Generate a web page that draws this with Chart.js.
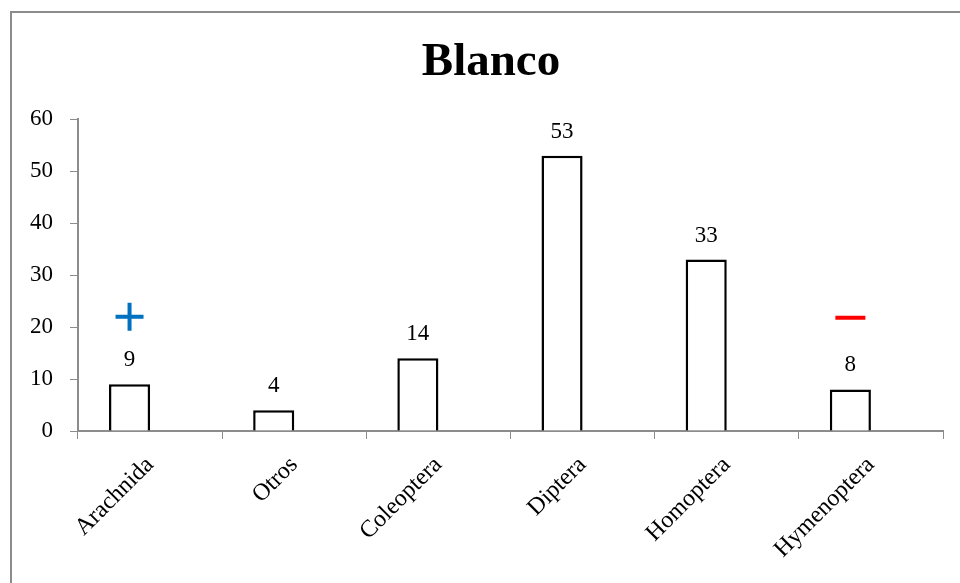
<!DOCTYPE html>
<html>
<head>
<meta charset="utf-8">
<script src="https://cdn.jsdelivr.net/npm/chart.js@4/dist/chart.umd.min.js"></script>
<style>
  html, body { margin: 0; padding: 0; background: #fff; overflow: hidden; }
  #wrap { width: 960px; height: 583px; position: relative; overflow: hidden; }
</style>
</head>
<body>
<div id="wrap"><canvas id="blancoChart" width="982" height="583"></canvas></div>
<script>
const ordenes = ['Arachnida', 'Otros', 'Coleoptera', 'Diptera', 'Homoptera', 'Hymenoptera'];
const capturas = [9, 4, 14, 53, 33, 8];
const marcas = ['+', null, null, null, null, '-'];
const nivelMarca = 22;
const ticksY = [0, 10, 20, 30, 40, 50, 60];

const serif = "'Liberation Serif', 'Times New Roman', serif";
const gris = '#8c8c8c';

// marco gris alrededor del gráfico
const marco = {
    id: 'marco',
    beforeDraw(chart) {
        const ctx = chart.ctx;
        ctx.save();
        ctx.fillStyle = '#fff';
        ctx.fillRect(0, 0, chart.width, chart.height);
        ctx.strokeStyle = gris;
        ctx.lineWidth = 2;
        ctx.beginPath();
        ctx.moveTo(11, chart.height);
        ctx.lineTo(11, 12);
        ctx.lineTo(chart.width, 12);
        ctx.stroke();
        ctx.restore();
    }
};

// valores encima de cada barra
const etiquetas = {
    id: 'etiquetas',
    afterDatasetsDraw(chart) {
        const ctx = chart.ctx;
        const meta = chart.getDatasetMeta(0);
        ctx.save();
        ctx.font = '23px ' + serif;
        ctx.fillStyle = '#000';
        ctx.textAlign = 'center';
        ctx.textBaseline = 'alphabetic';
        meta.data.forEach((bar, i) => {
            ctx.fillText(String(capturas[i]), bar.x, bar.y - 18);
        });
        ctx.restore();
    }
};

// signos + y - sobre Arachnida e Hymenoptera
const signos = {
    id: 'signos',
    afterDatasetsDraw(chart) {
        const ctx = chart.ctx;
        const meta = chart.getDatasetMeta(0);
        const y = chart.scales.y.getPixelForValue(nivelMarca);
        ctx.save();
        ctx.lineWidth = 4;
        ctx.lineCap = 'butt';
        marcas.forEach((m, i) => {
            if (!m) return;
            const x = meta.data[i].x;
            ctx.beginPath();
            if (m === '+') {
                ctx.strokeStyle = '#0070c0';
                ctx.moveTo(x - 14, y);
                ctx.lineTo(x + 14, y);
                ctx.moveTo(x, y - 14);
                ctx.lineTo(x, y + 14);
            } else {
                ctx.strokeStyle = '#ff0000';
                ctx.moveTo(x - 15, y + 1);
                ctx.lineTo(x + 15, y + 1);
            }
            ctx.stroke();
        });
        ctx.restore();
    }
};

new Chart(document.getElementById('blancoChart'), {
    type: 'bar',
    data: {
        labels: ordenes,
        datasets: [
            {
                label: 'Blanco',
                data: capturas,
                backgroundColor: '#fff',
                borderColor: '#000',
                borderWidth: 2.5,
                borderSkipped: 'start',
                categoryPercentage: 0.57,
                barPercentage: 1
            },
            {
                // serie vacía que ocupa el segundo hueco de cada categoría
                label: '',
                data: [],
                categoryPercentage: 0.57,
                barPercentage: 1
            }
        ]
    },
    options: {
        responsive: false,
        animation: false,
        layout: { padding: { left: 20, right: 20, top: 0, bottom: 0 } },
        plugins: {
            legend: { display: false },
            tooltip: { enabled: false },
            title: {
                display: true,
                text: 'Blanco',
                color: '#000',
                font: { family: serif, size: 47, weight: 'bold', lineHeight: 1.2 },
                padding: { top: 35, bottom: 28 }
            }
        },
        scales: {
            x: {
                grid: { display: true, drawOnChartArea: false, offset: true, color: gris, tickLength: 8 },
                border: { display: true, color: gris, width: 2 },
                ticks: {
                    color: '#000',
                    font: { family: serif, size: 24 },
                    minRotation: 45,
                    maxRotation: 45,
                    padding: 12
                },
                afterFit(scale) { scale.height = 152; }
            },
            y: {
                min: 0,
                max: 60,
                grid: { display: true, drawOnChartArea: false, color: gris, tickLength: 8 },
                border: { display: true, color: gris, width: 2 },
                afterBuildTicks(scale) { scale.ticks = ticksY.map(v => ({ value: v })); },
                ticks: {
                    color: '#000',
                    font: { family: serif, size: 23 },
                    padding: 17
                },
                afterFit(scale) { scale.width = 58; }
            },
            // margen derecho vacío, sin marcas
            margen: {
                type: 'linear',
                position: 'right',
                display: true,
                grid: { display: false },
                border: { display: false },
                ticks: { display: false },
                afterFit(scale) { scale.width = 19; }
            }
        }
    },
    plugins: [marco, etiquetas, signos]
});
</script>
</body>
</html>
